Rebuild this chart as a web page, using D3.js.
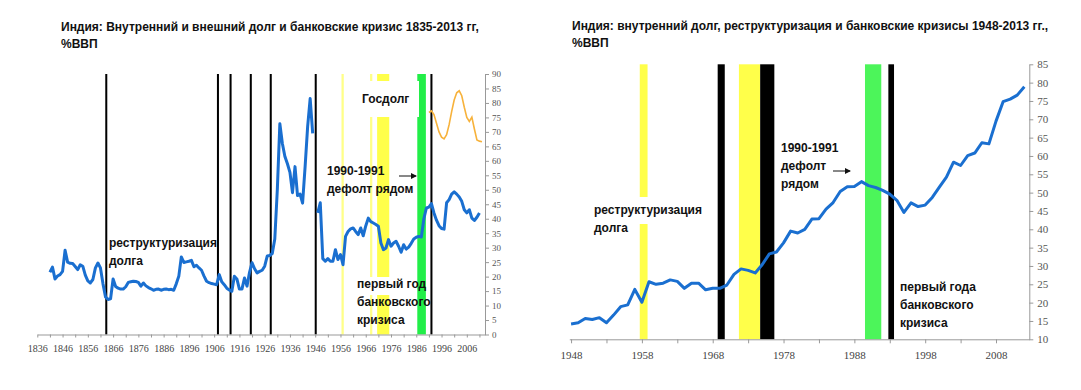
<!DOCTYPE html>
<html>
<head>
<meta charset="utf-8">
<script src="https://cdn.jsdelivr.net/npm/d3@7"></script>
<style>
  body { margin: 0; background: #fff; }
  .note { font-family: "Liberation Sans", Arial, sans-serif; font-weight: bold; font-size: 12px; fill: #111; }
  .axis path, .axis line { stroke: #999; }
</style>
</head>
<body>
<div id="chart"></div>
<script>
// Left panel: internal + external debt, % of GDP (1841-2011), 1946 missing
const leftYears = d3.range(1841, 2012);
const leftDebt = [
    21.5, 23.3, 19.2, 20.2, 20.7, 21.8, 29.1, 25.0, 24.6,             // 1841-1849
    24.5, 23.5, 22.4, 24.1, 23.6, 20.5, 18.5, 17.8, 19.0, 23.0,       // 1850-1859
    24.7, 23.0, 17.5, 13.0, 12.1, 12.3, 19.2, 16.6, 16.0, 15.7,       // 1860-1869
    15.7, 16.5, 18.0, 18.2, 18.4, 18.3, 18.0, 16.7, 17.8, 16.8,       // 1870-1879
    16.2, 15.8, 15.3, 15.6, 15.7, 15.3, 15.6, 15.7, 15.5, 15.6,       // 1880-1889
    15.3, 17.5, 20.1, 26.8, 24.9, 25.1, 25.3, 25.6, 23.4, 23.9,       // 1890-1899
    23.0, 22.2, 20.2, 18.4, 17.9, 17.6, 17.4, 17.2, 20.7, 18.2,       // 1900-1909
    17.2, 16.0, 15.4, 14.9, 20.1, 19.2, 15.7, 15.7, 19.5, 16.7,       // 1910-1919
    21.5, 24.8, 22.7, 21.3, 21.8, 22.2, 23.6, 27.1, 27.3, 28.0,       // 1920-1929
    33.0, 50.0, 72.8, 66.0, 61.5, 59.0, 56.0, 49.0, 58.0, 48.0,       // 1930-1939
    48.5, 45.4, 58.0, 71.8, 81.5, 69.5, null, 42.0, 45.5, 26.2,       // 1940-1949
    25.3, 26.2, 25.3, 25.3, 29.3, 25.9, 27.6, 24.1, 33.9, 35.6,       // 1950-1959
    36.5, 36.8, 35.6, 34.5, 36.8, 34.1, 37.5, 40.2, 39.0, 38.5,       // 1960-1969
    38.0, 37.4, 31.6, 29.3, 29.9, 32.8, 30.5, 31.6, 32.2, 30.5,       // 1970-1979
    28.4, 31.0, 29.5, 30.2, 31.5, 33.0, 33.6, 33.9, 33.7, 40.0,       // 1980-1989
    43.7, 44.0, 45.2, 42.0, 39.5, 37.6, 36.6, 36.4, 45.5, 46.6,       // 1990-1999
    48.5, 49.3, 48.5, 47.5, 46.0, 43.1, 42.0, 43.1, 40.2, 39.4,       // 2000-2009
    40.5, 42.0                                                        // 2010-2011
];

// Left panel: government debt (Госдолг)
const govYears = d3.range(1991, 2013);
const govDebt = [76.7, 77.3, 76.0, 73.0, 70.0, 68.2, 67.6, 69.0, 72.5, 77.0,
    81.0, 83.5, 84.2, 82.5, 78.5, 75.0, 73.6, 75.1, 71.0, 67.2, 66.8, 66.6];

// Left panel crisis bands [start, end] in years
const leftBlack = [[1862.9, 1863.7], [1907.1, 1907.9], [1912.1, 1912.9], [1920.1, 1920.9],
    [1928.0, 1928.8], [1945.8, 1946.6], [1991.6, 1992.4]];
const leftPaleYellow = [[1956.4, 1957.3], [1967.7, 1968.6]];
const leftYellow = [[1970.5, 1975.3]];
const leftGreen = [[1986.4, 1989.8]];

// Right panel: internal debt, % of GDP (1948-2012)
const rightYears = d3.range(1948, 2013);
const rightDebt = [
    14.2, 14.5, 15.7, 15.4, 15.9, 14.5, 16.6, 18.9, 19.4, 23.6,       // 1948-1957
    20.1, 25.7, 25.0, 25.3, 26.2, 25.8, 23.9, 25.3, 25.3, 23.5,       // 1958-1967
    23.9, 23.9, 24.8, 27.7, 29.2, 28.8, 28.1, 30.4, 33.3, 33.8,       // 1968-1977
    36.3, 39.5, 39.0, 40.0, 42.8, 42.9, 45.5, 47.3, 50.3, 51.6,       // 1978-1987
    51.7, 53.0, 51.9, 51.4, 50.6, 49.6, 47.9, 44.6, 47.2, 46.2,       // 1988-1997
    46.6, 48.7, 51.5, 54.2, 58.3, 57.4, 60.1, 60.8, 63.6, 63.3,       // 1998-2007
    69.5, 74.8, 75.5, 76.6, 78.9                                      // 2008-2012
];

const rightYellow = [[1957.7, 1958.8], [1971.7, 1974.7]];
const rightBlack = [[1968.7, 1969.7], [1974.7, 1976.7], [1992.8, 1993.6]];
const rightGreen = [[1989.5, 1991.8]];

const leftTicks = d3.range(0, 91, 5);
const rightTicks = d3.range(10, 86, 5);
const leftYearTicks = d3.range(1836, 2013, 5);
const rightYearTicks = d3.range(1948, 2013, 5);

const serif = '"Liberation Serif", "Times New Roman", serif';

const svg = d3.select("#chart").append("svg")
    .attr("width", 1081)
    .attr("height", 390);

svg.append("defs").append("marker")
    .attr("id", "arr")
    .attr("viewBox", "0 0 6 6")
    .attr("refX", 5).attr("refY", 3)
    .attr("markerWidth", 6).attr("markerHeight", 6)
    .attr("orient", "auto")
    .append("path").attr("d", "M0,0 L6,3 L0,6 z").attr("fill", "#111");

// scales
const xL = d3.scaleLinear().domain([1836, 2013.2]).range([37.3, 485]);
const yL = d3.scaleLinear().domain([0, 90]).range([334.5, 74]);
const xR = d3.scaleLinear().domain([1947.75, 2012.7]).range([569.3, 1029.3]);
const yR = d3.scaleLinear().domain([10, 85]).range([339.3, 64.3]);

function bands(g, list, x, y, color) {
    g.selectAll(null)
        .data(list)
        .enter()
        .append("rect")
        .attr("x", d => x(d[0]))
        .attr("width", d => x(d[1]) - x(d[0]))
        .attr("y", y.range()[1])
        .attr("height", y.range()[0] - y.range()[1])
        .attr("fill", color);
}

function note(g, x, y, lines, dy) {
    const t = g.append("text").attr("class", "note").attr("x", x).attr("y", y);
    lines.forEach((s, i) => {
        t.append("tspan").attr("x", x).attr("dy", i ? dy : 0).text(s);
    });
}

// ---------- left panel ----------
const gl = svg.append("g");

bands(gl, leftPaleYellow, xL, yL, "#ffff88");
bands(gl, leftYellow, xL, yL, "#ffff4a");
bands(gl, leftGreen, xL, yL, "#22ee48");
bands(gl, leftBlack, xL, yL, "#000");

// white label boxes that cut the bands
gl.append("rect").attr("x", 358).attr("y", 81).attr("width", 61).attr("height", 36).attr("fill", "#fff");
gl.append("rect").attr("x", 356).attr("y", 277).attr("width", 60).attr("height", 18).attr("fill", "#fff");

gl.append("g")
    .attr("class", "axis")
    .attr("transform", `translate(0,${yL(0)})`)
    .call(d3.axisBottom(xL)
        .tickValues(leftYearTicks)
        .tickSize(3)
        .tickSizeOuter(0)
        .tickFormat(d => (d - 1836) % 10 === 0 ? d : ""))
    .call(g => g.selectAll("text")
        .attr("font-family", serif).attr("font-size", 10).attr("fill", "#444").attr("dy", "1.1em"));

gl.append("g")
    .attr("class", "axis")
    .attr("transform", `translate(${xL.range()[1]},0)`)
    .call(d3.axisRight(yL).tickValues(leftTicks).tickSize(4).tickSizeOuter(0).tickPadding(3))
    .call(g => g.selectAll("text")
        .attr("font-family", serif).attr("font-size", 9).attr("fill", "#555"));

const lineL = d3.line()
    .defined(d => d[1] !== null)
    .x(d => xL(d[0]))
    .y(d => yL(d[1]));

gl.append("path")
    .datum(leftYears.map((yr, i) => [yr, leftDebt[i]]))
    .attr("d", lineL)
    .attr("fill", "none")
    .attr("stroke", "#1a6fd0")
    .attr("stroke-width", 3)
    .attr("stroke-linejoin", "round");

gl.append("path")
    .datum(govYears.map((yr, i) => [yr, govDebt[i]]))
    .attr("d", lineL)
    .attr("fill", "none")
    .attr("stroke", "#f7b23b")
    .attr("stroke-width", 1.6);

note(gl, 61, 31, ["Индия: Внутренний и внешний долг и банковские кризис 1835-2013 гг,", "%ВВП"], 17);
note(gl, 109, 247, ["реструктуризация", "долга"], 18);
note(gl, 362, 103, ["Госдолг"], 0);
note(gl, 327, 175, ["1990-1991", "дефолт рядом"], 18);
note(gl, 357, 288, ["первый год", "банковского", "кризиса"], 18);
gl.append("line").attr("x1", 399).attr("x2", 416).attr("y1", 176).attr("y2", 176)
    .attr("stroke", "#111").attr("stroke-width", 1).attr("marker-end", "url(#arr)");

// ---------- right panel ----------
const gr = svg.append("g");

bands(gr, rightYellow, xR, yR, "#ffff4a");
bands(gr, rightGreen, xR, yR, "#4cf55a");
bands(gr, rightBlack, xR, yR, "#000");

gr.append("rect").attr("x", 590).attr("y", 197).attr("width", 112).attr("height", 27).attr("fill", "#fff");

gr.append("g")
    .attr("class", "axis")
    .attr("transform", `translate(0,${yR(10)})`)
    .call(d3.axisBottom(xR)
        .tickValues(rightYearTicks)
        .tickSize(4)
        .tickSizeOuter(0)
        .tickFormat(d => (d - 1948) % 10 === 0 ? d : ""))
    .call(g => g.selectAll("text")
        .attr("font-family", serif).attr("font-size", 11).attr("fill", "#444").attr("dy", "1.15em"));

gr.append("g")
    .attr("class", "axis")
    .attr("transform", `translate(${xR.range()[1]},0)`)
    .call(d3.axisRight(yR).tickValues(rightTicks).tickSize(4).tickSizeOuter(0).tickPadding(4))
    .call(g => g.selectAll("text")
        .attr("font-family", serif).attr("font-size", 11).attr("fill", "#555"));

const lineR = d3.line()
    .x(d => xR(d[0]))
    .y(d => yR(d[1]));

gr.append("path")
    .datum(rightYears.map((yr, i) => [yr, rightDebt[i]]))
    .attr("d", lineR)
    .attr("fill", "none")
    .attr("stroke", "#1a6fd0")
    .attr("stroke-width", 3)
    .attr("stroke-linejoin", "round");

note(gr, 572, 30, ["Индия: внутренний долг, реструктуризация и банковские кризисы 1948-2013 гг.,", "%ВВП"], 17);
note(gr, 594, 214, ["реструктуризация", "долга"], 18);
note(gr, 781, 152, ["1990-1991", "дефолт", "рядом"], 18);
note(gr, 900, 291, ["первый года", "банковского", "кризиса"], 18);
gr.append("line").attr("x1", 833).attr("x2", 850).attr("y1", 171).attr("y2", 171)
    .attr("stroke", "#111").attr("stroke-width", 1).attr("marker-end", "url(#arr)");
</script>
</body>
</html>
